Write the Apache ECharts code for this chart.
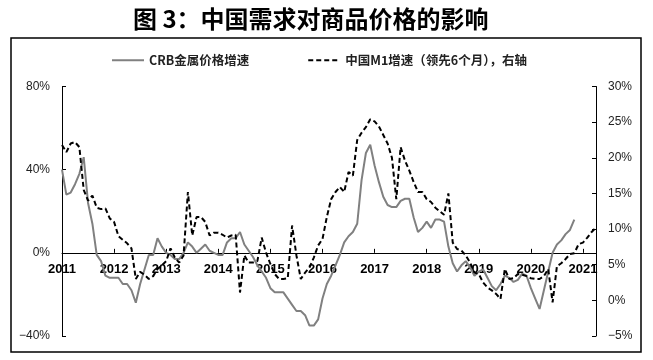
<!DOCTYPE html>
<html><head><meta charset="utf-8">
<script src="https://cdn.jsdelivr.net/npm/echarts@6/dist/echarts.min.js"></script>
<style>html,body{margin:0;padding:0;background:#fff}#c{width:653px;height:360px}</style>
</head><body><div id="c"></div>
<script>
// Months Jan 2011 .. Apr 2021
const months = [];
for (let y = 2011; y <= 2021; y++) for (let m = 1; m <= 12; m++) { if (y === 2021 && m > 4) break; months.push(y + '-' + (m < 10 ? '0' + m : m)); }

// CRB metal price growth (%), left axis, Jan 2011 .. Nov 2020
const crb = [40,28,29,33,38,46,24,14,-1,-4,-11,-12,
  -12,-12,-15,-15,-18,-24,-15,-8,-1,-1,7,3,
  0,-1,-3,-3,0,5,3,0,2,4,1,0,
  -1,-1,5,7,7,10,4,1,-2,-6,-9,-12,
  -17,-19,-19,-19,-22,-25,-28,-28,-30,-35,-35,-32,
  -22,-15,-11,-6,-1,5,8,10,14,35,48,52,
  42,34,27,23,22,22,25,26,26,17,10,12,
  15,12,16,16,15,3,-5,-9,-6,-4,-7,-11,
  -9,-8,-12,-16,-18,-15,-11,-12,-14,-13,-10,-11,
  -17,-22,-27,-18,-9,0,4,6,9,11,16];

// China M1 growth, 6 months lead (%), right axis
const m1 = [21.8,20.8,22,22.2,21.5,15.5,14,14.7,13,12.8,12.9,11.5,
  11,9,8.5,8,7.3,3,4,3.6,3,3.4,4.4,4.9,
  5.5,7.3,6,5.3,6.3,15.2,9.1,11.7,11.7,11,9.1,9.5,
  9.5,9.2,8.8,9.1,9.2,1.1,6.3,5.3,5.3,5.5,8.8,6.7,
  5.1,3.7,3,3,3.1,10.5,6.3,3,3.9,4.6,6,7.7,
  8.6,11.7,14.2,15.2,15.9,15.2,18,17.5,22.5,23.5,24.3,25.4,
  25.1,24.4,23.2,22,20,14.2,21.5,19.6,18.2,16.6,15.2,15.2,
  14.2,13.8,13,12.5,12,15,8.1,7.2,7,6.3,5.3,3.9,
  3.7,2.5,1.8,1.4,0.9,0.2,4.4,3,3.1,3.7,3.6,3.4,
  3.1,3.0,3.0,3.4,4.4,-0.3,4.8,5.2,5.8,6.5,6.6,7.9,
  8.1,8.8,9.6,10.2];

const leftTicks = {min: -40, max: 80, interval: 40};
const rightTicks = {min: -5, max: 30, interval: 5};

const gridTop = 86.5, gridBottom = 24, H = 360;
const plotH = H - gridTop - gridBottom;
// place the category axis at the left axis' zero
const zeroOffset = -plotH * (0 - leftTicks.min) / (leftTicks.max - leftTicks.min);

const pct = v => (v < 0 ? '\u2212' + Math.abs(v) : v) + '%';
const chart = echarts.init(document.getElementById('c'));
const axisCommon = {
  type: 'value',
  axisLine: {show: true, lineStyle: {color: '#000', width: 1}},
  axisTick: {show: true, inside: true, length: 4, lineStyle: {color: '#000'}},
  splitLine: {show: false},
  axisLabel: {formatter: pct, color: '#222', fontSize: 12, fontFamily: 'Liberation Sans, Arial', margin: 12}
};
chart.setOption({
  animation: false,
  title: {text: '图 3：中国需求对商品价格的影响', left: 128, top: 2,
    textStyle: {fontSize: 24, fontWeight: 'bold', color: '#000', fontFamily: 'Noto Sans CJK SC'}},
  legend: {top: 49, left: 106, itemGap: 58, itemWidth: 32, itemHeight: 10,
    itemStyle: {opacity: 0},
    textStyle: {fontSize: 12.5, fontWeight: 'bold', color: '#222', fontFamily: 'Noto Sans CJK SC'},
    data: ['CRB金属价格增速', '中国M1增速（领先6个月），右轴']},
  graphic: [{type: 'rect', shape: {x: 11, y: 38, width: 630, height: 314}, style: {fill: 'none', stroke: '#000', lineWidth: 1.5}, z: 100}],
  grid: {left: 62, right: 57, top: gridTop, bottom: gridBottom, containLabel: false},
  xAxis: {type: 'category', data: months, boundaryGap: false, position: 'bottom', offset: zeroOffset,
    axisLine: {onZero: false, lineStyle: {color: '#000', width: 1}},
    axisTick: {show: true, inside: true, length: 4, interval: i => i % 12 === 0, lineStyle: {color: '#000'}},
    axisLabel: {interval: i => i % 12 === 0, formatter: v => v.slice(0, 4), color: '#000', fontSize: 13, fontWeight: 'bold', fontFamily: 'Liberation Sans, Arial', margin: 10}},
  yAxis: [
    Object.assign({}, axisCommon, leftTicks, {position: 'left'}),
    Object.assign({}, axisCommon, rightTicks, {position: 'right'})
  ],
  series: [
    {name: 'CRB金属价格增速', type: 'line', yAxisIndex: 0, data: crb, showSymbol: false, symbol: 'none',
      lineStyle: {color: '#808080', width: 2}, itemStyle: {color: '#808080'}, z: 3},
    {name: '中国M1增速（领先6个月），右轴', type: 'line', yAxisIndex: 1, data: m1, showSymbol: false, symbol: 'none',
      lineStyle: {color: '#000', width: 2, type: [5, 3]}, itemStyle: {color: '#000'}, z: 4}
  ]
});
</script></body></html>
